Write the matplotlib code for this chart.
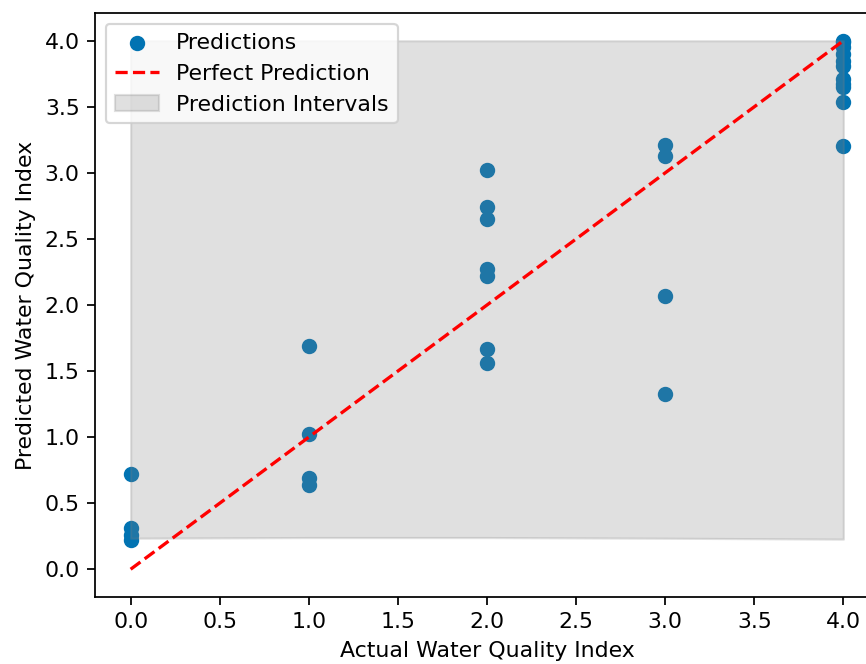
import numpy as np
import matplotlib
matplotlib.use("Agg")
import matplotlib.pyplot as plt

# actual class levels and the predictions
actual_levels = [0.0, 1.0, 2.0, 3.0, 4.0]
preds_by_level = [
    [0.72, 0.31, 0.26, 0.22],
    [1.69, 1.02, 0.69, 0.64],
    [3.02, 2.74, 2.65, 2.27, 2.22, 1.67, 1.56],
    [3.21, 3.13, 2.07, 1.33],
    [4.00, 3.99, 3.95, 3.90, 3.85, 3.81, 3.71, 3.67, 3.65, 3.54, 3.20],
]
# prediction interval bounds per class level
interval_lower = [0.235, 0.24, 0.24, 0.235, 0.228]
interval_upper = [4.0, 4.0, 4.0, 4.0, 4.0]

y_test = np.concatenate([[a] * len(p) for a, p in zip(actual_levels, preds_by_level)])
y_pred = np.concatenate(preds_by_level)

fig = plt.figure(figsize=(866 / 158, 664 / 158), dpi=158)
# original figure was cropped on the right, so the axes run past the edge
ax = fig.add_axes([95 / 866, 67 / 664, 784 / 866, 584 / 664])

ax.scatter(y_test, y_pred, color='#0173b2', label='Predictions')
ax.plot([min(actual_levels), max(actual_levels)], [min(actual_levels), max(actual_levels)],
        'r--', label='Perfect Prediction')
ax.fill_between(actual_levels, interval_lower, interval_upper, color='gray', alpha=0.24,
                label='Prediction Intervals')

ax.set_xlim(-0.2, 4.2)
ax.set_ylim(-0.21, 4.21)
ax.set_xticks(np.arange(0, 4.01, 0.5))
ax.set_yticks(np.arange(0, 4.01, 0.5))
ax.set_xlabel('Actual Water Quality Index')
ax.set_ylabel('Predicted Water Quality Index')
ax.legend(loc='upper left')

fig.savefig('out.png', dpi=158)
